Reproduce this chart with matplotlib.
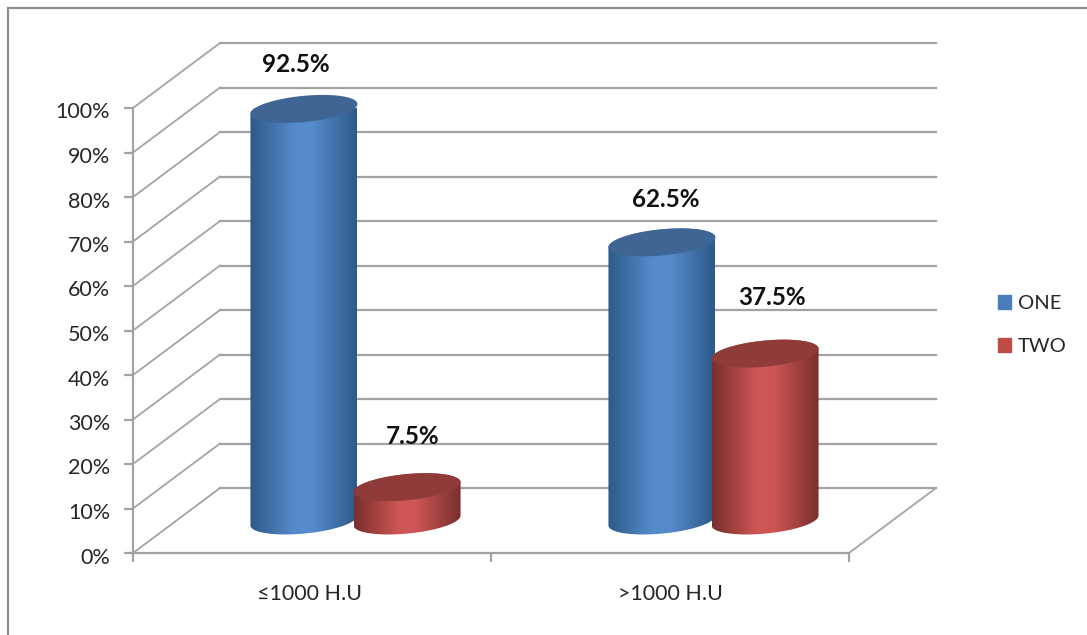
import numpy as np
import matplotlib
matplotlib.use("Agg")
import matplotlib.pyplot as plt
from matplotlib.colors import LinearSegmentedColormap
from matplotlib.patches import Patch, PathPatch, Rectangle
from matplotlib.path import Path
from matplotlib.transforms import ScaledTranslation

plt.rcParams["font.family"] = ["Lato", "DejaVu Sans"]

categories = ["≤1000 H.U", ">1000 H.U"]
series_names = ["ONE", "TWO"]
one_values = [92.5, 62.5]
two_values = [7.5, 37.5]
y_ticks = [0, 10, 20, 30, 40, 50, 60, 70, 80, 90, 100]

GRID = "#a3a3a3"
TEXT = "#262626"
DEPTH_X = 0.243
DEPTH_Y = 14.6
RADIUS = 0.14
TILT = 0.215
BAR_OFFSET = 0.144

series_styles = [
    {"edge": "#2e5a8a", "mid": "#568bcb", "top": "#3e6593", "legend": "#4a7ebb"},
    {"edge": "#7a2f2f", "mid": "#cd5654", "top": "#8e3b39", "legend": "#be4b48"},
]


def ellipse(cx, cy, t):
    # Circle lying on the floor plane, sheared along the depth direction
    x = cx + RADIUS * np.cos(t) + TILT * DEPTH_X * np.sin(t)
    y = cy + TILT * DEPTH_Y * np.sin(t)
    return np.column_stack([x, y])


def cylinder(ax, cx, value, style):
    cy = DEPTH_Y / 2
    t0 = np.arctan2(TILT * DEPTH_X, RADIUS)
    lower = ellipse(cx, cy, np.linspace(t0 + np.pi, t0 + 2 * np.pi, 60))
    upper = ellipse(cx, cy + value, np.linspace(t0, t0 + np.pi, 60))
    body = Path(np.vstack([lower, upper, lower[:1]]), closed=True)

    half = np.hypot(RADIUS, TILT * DEPTH_X)
    cmap = LinearSegmentedColormap.from_list(
        "shade",
        [(0, style["edge"]), (0.42, style["mid"]), (0.58, style["mid"]), (1, style["edge"])],
    )
    gradient = np.linspace(0, 1, 128).reshape(1, -1)
    im = ax.imshow(
        gradient,
        cmap=cmap,
        aspect="auto",
        extent=(cx - half, cx + half, cy - 5, cy + value + 5),
        zorder=3,
    )
    im.set_clip_path(PathPatch(body, transform=ax.transData))

    cap = ellipse(cx, cy + value, np.linspace(0, 2 * np.pi, 120))
    ax.fill(cap[:, 0], cap[:, 1], color=style["top"], lw=0, zorder=3, clip_on=False)


fig = plt.figure(figsize=(10.87, 6.35), dpi=100)
ax = fig.add_axes([133 / 1087, 82 / 635, 716 / 1087, 445 / 635])
ax.patch.set_alpha(0)
for spine in ax.spines.values():
    spine.set_visible(False)

# Chart border
fig.add_artist(
    Rectangle((8 / 1087, -0.02), 1.1, 1.02 - 8 / 635, transform=fig.transFigure,
              fill=False, ec="#8e8e8e", lw=1.6)
)

# Side wall, back wall and floor lines
for tick in y_ticks:
    ax.plot([0, DEPTH_X], [tick, tick + DEPTH_Y], color=GRID, lw=1.3, clip_on=False, zorder=1)
    ax.plot([DEPTH_X, 2 + DEPTH_X], [tick + DEPTH_Y, tick + DEPTH_Y], color=GRID, lw=1.6,
            clip_on=False, zorder=1)
ax.plot([2, 2 + DEPTH_X], [0, DEPTH_Y], color=GRID, lw=1.3, clip_on=False, zorder=1)
ax.plot([0, 2], [0, 0], color=GRID, lw=1.6, clip_on=False, zorder=1)
ax.plot([0, 0], [0, 100], color=GRID, lw=1.6, clip_on=False, zorder=1)

# One cylinder per series inside each category, blue first
positions = np.arange(len(categories)) + 0.5 + DEPTH_X / 2
for i, values in enumerate([one_values, two_values]):
    sign = -1 if i == 0 else 1
    for pos, value in zip(positions, values):
        cylinder(ax, pos + sign * BAR_OFFSET, value, series_styles[i])

# Value labels sit above the caps, nudged sideways
label_shifts = [(-0.167, 17.3), (0.16, 18.7), (-0.133, 17.0), (0.163, 20.0)]
label_pos = [positions[0], positions[0], positions[1], positions[1]]
label_vals = [one_values[0], two_values[0], one_values[1], two_values[1]]
for (dx, dy), pos, value in zip(label_shifts, label_pos, label_vals):
    ax.text(pos + dx, value + dy, f"{value}%", ha="center", va="center", fontsize=17.5,
            fontweight="bold", color="#111111", zorder=5, clip_on=False)

ax.set_xlim(0, 2)
ax.set_ylim(0, 100)
ax.set_yticks(y_ticks)
ax.set_yticklabels([f"{t}%" for t in y_ticks])
ax.set_xticks([0, 1, 2])
ax.set_xticklabels([])
for offset, name in zip([0.493, 1.5], categories):
    ax.text(offset, -9.3, name, ha="center", va="center", fontsize=15.5, color=TEXT)
ax.tick_params(axis="both", color=GRID, width=1.6, length=6.5)
ax.tick_params(axis="y", labelsize=15.5, labelcolor=TEXT, pad=10)

# Tick labels hang slightly below their ticks
shift_down = ScaledTranslation(0, -2.5 / 100, fig.dpi_scale_trans)
for label in ax.get_yticklabels():
    label.set_transform(label.get_transform() + shift_down)

handles = [Patch(color=s["legend"]) for s in series_styles]
fig.legend(
    handles,
    series_names,
    loc="center left",
    bbox_to_anchor=(998 / 1087, 1 - 325 / 635),
    frameon=False,
    fontsize=14.5,
    labelcolor=TEXT,
    borderpad=0,
    borderaxespad=0,
    handlelength=0.65,
    handleheight=0.65,
    handletextpad=0.35,
    labelspacing=1.3,
)

fig.savefig("out.png", dpi=100)
